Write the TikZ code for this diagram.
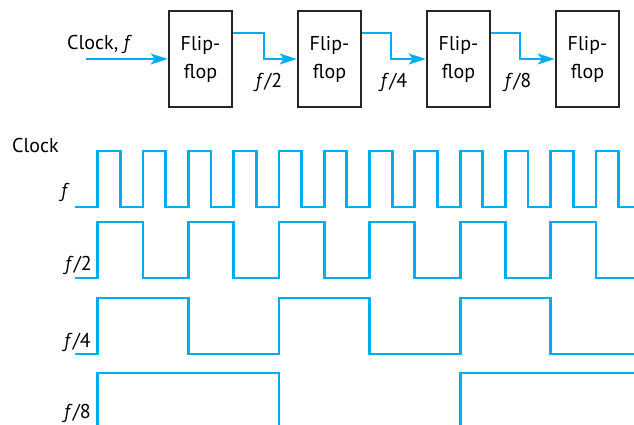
\documentclass[tikz,border=0pt]{standalone}
\usepackage{fontspec}
\setmainfont{PT Sans}
\usetikzlibrary{arrows.meta,positioning}
\definecolor{cyanline}{RGB}{0,174,239}
\tikzset{
  ffbox/.style={draw=black!85,line width=2.6pt,minimum width=63pt,minimum height=96pt,
    inner sep=0pt,align=center,font=\fontsize{20}{28}\selectfont},
  conn/.style={cyanline,line width=2pt,-{Stealth[length=17pt,width=11pt,inset=4pt]}},
  wave/.style={cyanline,line width=2.8pt,line join=miter},
  lbl/.style={font=\fontsize{20}{24}\selectfont,inner sep=0pt}
}
\begin{document}
\begin{tikzpicture}[x=1pt,y=-1pt]
\useasboundingbox (0,0) rectangle (634,425);
\clip (0,0) rectangle (634,425);
% flip-flops
\node[ffbox] (b1) at (200.5,59) {Flip-\\flop};
\node[ffbox] (b2) at (329.5,59) {Flip-\\flop};
\node[ffbox] (b3) at (458.5,59) {Flip-\\flop};
\node[ffbox] (b4) at (587.5,59) {Flip-\\flop};
\coordinate (in) at (86,59);
\draw[conn] (in) -- (b1.west);
\draw[conn] ([yshift=26pt]b1.east) -- ++(31,0) |- (b2.west);
\draw[conn] ([yshift=26pt]b2.east) -- ++(29,0) |- (b3.west);
\draw[conn] ([yshift=26pt]b3.east) -- ++(29,0) |- (b4.west);
\node[lbl,anchor=base west] (tclk) at (67,50) {Clock, \textit{f}};
\node[lbl,anchor=base] (t2) at (269,88) {\textit{f}/2};
\node[lbl,anchor=base] (t4) at (394,88) {\textit{f}/4};
\node[lbl,anchor=base] (t8) at (518,88) {\textit{f}/8};
% waveform labels
\node[lbl,anchor=base west] (lclk) at (12,152) {Clock};
\node[lbl,anchor=base east] (lf) at (70,197) {\textit{f}};
\node[lbl,anchor=base east] (lf2) at (92,270) {\textit{f}/2};
\node[lbl,anchor=base east] (lf4) at (91,347) {\textit{f}/4};
\node[lbl,anchor=base east] (lf8) at (91,418) {\textit{f}/8};
% clock
\draw[wave] (75,207) \foreach \k in {0,...,11} {
  -- ({97.7+45.3*\k},207) -- ({97.7+45.3*\k},151) -- ({120.35+45.3*\k},151) -- ({120.35+45.3*\k},207) } -- (640,207);
% f/2
\draw[wave] (75,278) \foreach \k in {0,...,5} {
  -- ({97.7+90.6*\k},278) -- ({97.7+90.6*\k},222) -- ({143+90.6*\k},222) -- ({143+90.6*\k},278) } -- (640,278);
% f/4
\draw[wave] (75,354) \foreach \k in {0,...,2} {
  -- ({97.7+181.2*\k},354) -- ({97.7+181.2*\k},298) -- ({188.3+181.2*\k},298) -- ({188.3+181.2*\k},354) } -- (640,354);
% f/8
\draw[wave] (75,440) -- (97.7,440) -- (97.7,373) -- (278.9,373) -- (278.9,440) -- (460.1,440) -- (460.1,373) -- (640,373);
\end{tikzpicture}
\end{document}
